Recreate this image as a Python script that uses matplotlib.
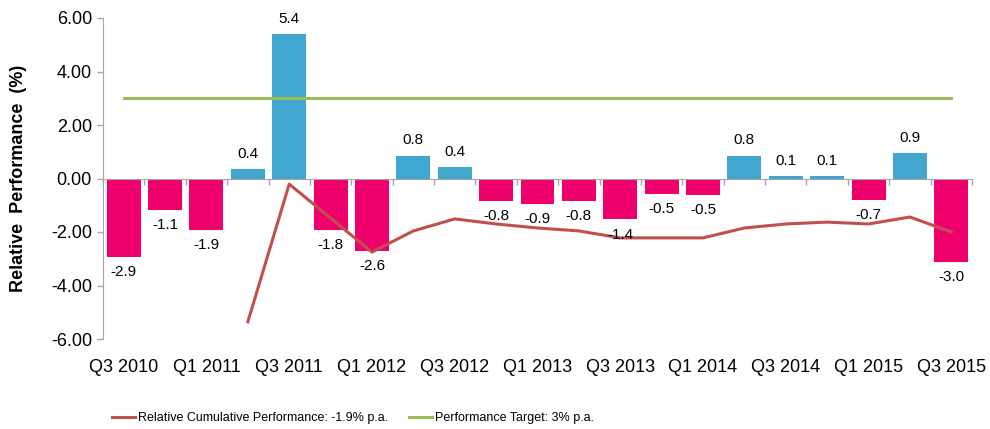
import matplotlib
matplotlib.use("Agg")
import matplotlib.pyplot as plt
import matplotlib.transforms as mtransforms

plt.rcParams['font.family'] = ['Liberation Sans', 'DejaVu Sans']

quarters = ["Q3 2010", "Q4 2010", "Q1 2011", "Q2 2011", "Q3 2011", "Q4 2011",
            "Q1 2012", "Q2 2012", "Q3 2012", "Q4 2012", "Q1 2013", "Q2 2013",
            "Q3 2013", "Q4 2013", "Q1 2014", "Q2 2014", "Q3 2014", "Q4 2014",
            "Q1 2015", "Q2 2015", "Q3 2015"]
relative_perf = [-2.93, -1.18, -1.93, 0.36, 5.41, -1.93, -2.71, 0.85, 0.43, -0.83,
                 -0.95, -0.83, -1.53, -0.58, -0.62, 0.85, 0.09, 0.09, -0.80, 0.96, -3.11]
bar_labels = ["-2.9", "-1.1", "-1.9", "0.4", "5.4", "-1.8", "-2.6", "0.8", "0.4", "-0.8",
              "-0.9", "-0.8", "-1.4", "-0.5", "-0.5", "0.8", "0.1", "0.1", "-0.7", "0.9", "-3.0"]
cumulative_perf = [None, None, None, -5.36, -0.21, -1.48, -2.75, -1.96, -1.51, -1.70,
                   -1.85, -1.96, -2.22, -2.22, -2.22, -1.85, -1.70, -1.63, -1.70, -1.44, -2.00]
target = [3.0] * len(quarters)
ytick_vals = [-6, -4, -2, 0, 2, 4, 6]

PINK = "#F0006C"
BLUE = "#41A7CF"
RED = "#C0504D"
GREEN = "#9BBB59"
GRAY = "#A6A6A6"

fig = plt.figure(figsize=(9.9, 4.29), dpi=100)
ax = fig.add_axes([103/990, 1-339/429, (972-103)/990, (339-18)/429])

x = list(range(len(quarters)))
colors = [BLUE if v >= 0 else PINK for v in relative_perf]
ax.bar(x, relative_perf, width=0.82, color=colors, zorder=2)

for xi, v, lab in zip(x, relative_perf, bar_labels):
    ax.annotate(lab, (xi, v), xytext=(0, 11 if v >= 0 else -11), textcoords="offset points",
                ha="center", va="center", fontsize=11, color="#000000", zorder=4)

cx = [xi for xi, c in zip(x, cumulative_perf) if c is not None]
cy = [c for c in cumulative_perf if c is not None]
line_cum, = ax.plot(cx, cy, color=RED, lw=2.2, zorder=3)
line_tgt, = ax.plot(x, target, color=GREEN, lw=2.2, zorder=3)

ax.set_xlim(-0.5, len(quarters) - 0.5)
ax.set_ylim(-6, 6)
ax.set_yticks(ytick_vals)
ax.set_yticklabels([f"{v:.2f}" for v in ytick_vals], fontsize=13)
ax.tick_params(axis="y", direction="out", length=4, color=GRAY, width=1, pad=4)

ax.spines["bottom"].set_position(("data", 0))
ax.spines["bottom"].set_color(GRAY)
ax.spines["left"].set_color(GRAY)
ax.spines["top"].set_visible(False)
ax.spines["right"].set_visible(False)
ax.set_xticks([i - 0.5 for i in range(len(quarters) + 1)])
ax.set_xticklabels([])
ax.tick_params(axis="x", direction="out", length=4, color=GRAY, width=1)

trans = mtransforms.blended_transform_factory(ax.transData, ax.transAxes)
for i in range(0, len(quarters), 2):
    ax.text(i, -0.09, quarters[i], transform=trans, ha="center", va="center", fontsize=13)

ax.set_ylabel("Relative  Performance  (%)", fontsize=13, fontweight="bold")
ax.yaxis.set_label_coords(-0.0875, 0.5)

leg_font = {'family': ['Liberation Sans', 'DejaVu Sans'], 'size': 9}
leg1 = fig.legend([line_cum], ["Relative Cumulative Performance: -1.9% p.a."],
                  loc="center left", bbox_to_anchor=(112/990, 1-418/429), frameon=False,
                  prop=leg_font, handlelength=1.85, handletextpad=0.25, borderpad=0, borderaxespad=0)
leg2 = fig.legend([line_tgt], ["Performance Target: 3% p.a."],
                  loc="center left", bbox_to_anchor=(409/990, 1-418/429), frameon=False,
                  prop=leg_font, handlelength=1.85, handletextpad=0.25, borderpad=0, borderaxespad=0)

fig.savefig("out.png", dpi=100)
